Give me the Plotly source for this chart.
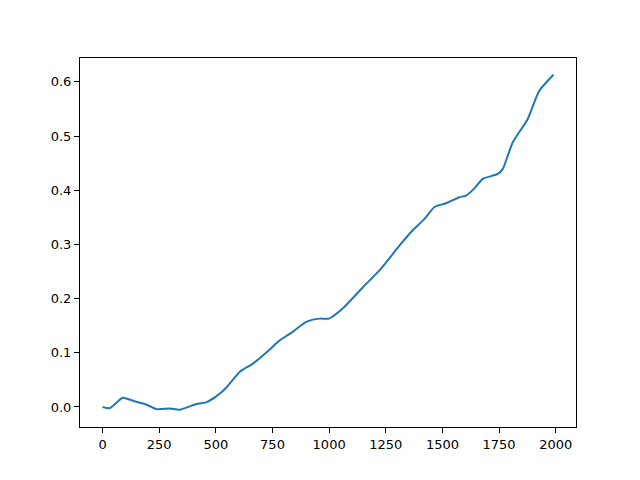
import plotly.graph_objects as go

x_vals = [0, 33, 89, 143, 187, 239, 297, 341, 415, 459, 500, 547, 606, 664, 738, 782,
          841, 899, 958, 999, 1061, 1149, 1222, 1311, 1369, 1421, 1465, 1516, 1575,
          1604, 1640, 1678, 1744, 1766, 1810, 1876, 1927, 1990]
y_vals = [0.0, -0.002, 0.017, 0.010, 0.0055, -0.004, -0.003, -0.005, 0.0055, 0.009, 0.019,
          0.036, 0.065, 0.080, 0.106, 0.123, 0.139, 0.157, 0.163, 0.163, 0.182, 0.221,
          0.252, 0.298, 0.326, 0.347, 0.369, 0.376, 0.387, 0.390, 0.403, 0.421, 0.430,
          0.439, 0.488, 0.531, 0.583, 0.613]

x_ticks = [0, 250, 500, 750, 1000, 1250, 1500, 1750, 2000]
y_ticks = [0.0, 0.1, 0.2, 0.3, 0.4, 0.5, 0.6]

fig = go.Figure(go.Scatter(x=x_vals, y=y_vals, mode="lines",
                           line=dict(color="#1f77b4", width=2, shape="spline", smoothing=0.6)))

axis_common = dict(showgrid=False, zeroline=False, showline=True, linecolor="black",
                   linewidth=1, mirror=True, ticks="outside", ticklen=5, tickcolor="black",
                   tickfont=dict(family="DejaVu Sans", size=13, color="black"))

fig.update_layout(
    width=640, height=480,
    margin=dict(l=72, r=72, t=50, b=61),
    paper_bgcolor="white", plot_bgcolor="white",
    showlegend=False,
    xaxis=dict(range=[-99.5, 2089.5], tickvals=x_ticks,
               ticktext=[str(t) for t in x_ticks], **axis_common),
    yaxis=dict(range=[-0.037, 0.644], tickvals=y_ticks,
               ticktext=[f"{t:.1f}" for t in y_ticks], **axis_common),
)

fig.write_html("out.html")
